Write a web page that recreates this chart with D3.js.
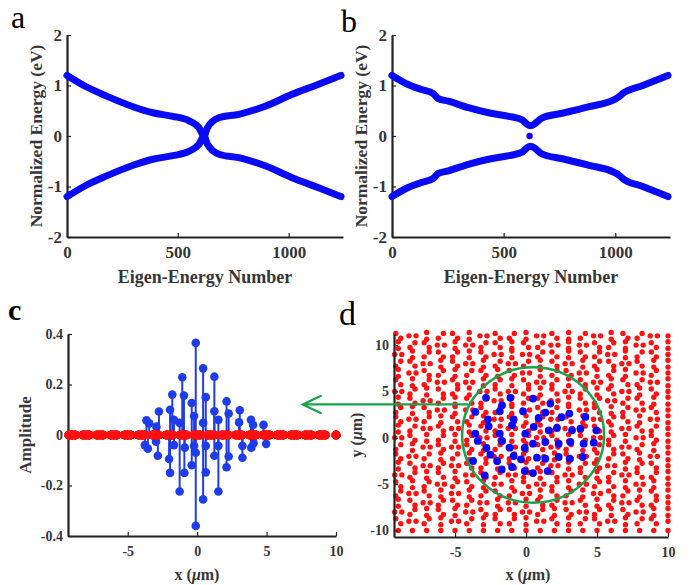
<!DOCTYPE html>
<html>
<head>
<meta charset="utf-8">
<script src="https://cdn.jsdelivr.net/npm/d3@7"></script>
<style>
  body { margin: 0; background: #fff; }
  svg text { font-family: "Liberation Serif", "Times New Roman", serif; }
</style>
</head>
<body>
<svg id="fig" width="699" height="585"></svg>
<script>
// ---- panel a: eigen-energies (upper and lower branch)
var nA = [0, 89, 179, 298, 387, 477, 551, 596, 618, 633, 685, 775, 894, 1013, 1132, 1236];
var upperA = [1.2, 0.97, 0.79, 0.58, 0.46, 0.39, 0.30, 0.16, 0.0, 0.16, 0.36, 0.43, 0.59, 0.82, 1.02, 1.2];
var lowerA = [-1.2, -0.97, -0.79, -0.58, -0.46, -0.39, -0.30, -0.16, 0.0, -0.16, -0.36, -0.43, -0.59, -0.82, -1.02, -1.2];

// ---- panel b
var nB = [0, 72, 132, 185, 207, 252, 342, 432, 523, 583, 616, 623, 673, 763, 883, 995, 1018, 1033, 1123, 1236];
var upperB = [1.2, 1.02, 0.92, 0.84, 0.74, 0.69, 0.56, 0.46, 0.39, 0.32, 0.21, 0.21, 0.36, 0.45, 0.58, 0.72, 0.78, 0.84, 1.0, 1.2];
var lowerB = [-1.2, -1.02, -0.92, -0.84, -0.74, -0.69, -0.56, -0.46, -0.39, -0.32, -0.21, -0.21, -0.36, -0.45, -0.58, -0.72, -0.78, -0.84, -1.0, -1.2];
var zeroModeB = [616, 0];

var energyTicks = [-2, -1, 0, 1, 2];
var numberTicks = [0, 500, 1000];

// ---- panel c: stem amplitudes of the zero mode
var stemX = [-3.45, -3.65, -3.77, -3.55, -2.75, -2.93, -2.96, -2.83,
  -1.79, -1.95, -1.67, -2.02, -1.95, -1.67, -1.07, -0.95, -1.26, -0.89, -0.92, -1.26,
  -0.10, -0.39, -0.22, -0.22, -0.10, -0.39, -0.10, 0.43, 0.62, 0.43, 0.62, 0.43, 0.62,
  1.24, 1.24, 1.53, 1.53, 1.24, 1.53, 2.12, 2.27, 2.27, 2.12,
  3.07, 3.02, 3.26, 3.26, 3.88, 4.03, 3.90, 4.07, 4.78, 4.97];
var stemAmp = [0.046, 0.058, -0.04, -0.054, 0.093, 0.033, -0.027, -0.082,
  0.16, 0.10, 0.06, -0.095, -0.15, -0.04, 0.229, 0.156, 0.048, -0.05, -0.15, -0.224,
  0.365, 0.127, 0.075, -0.043, -0.07, -0.12, -0.36, 0.264, 0.15, 0.048, -0.043, -0.255, -0.148,
  0.231, 0.094, 0.06, -0.043, -0.082, -0.224, 0.133, 0.085, -0.085, -0.128,
  0.098, 0.05, -0.043, -0.09, 0.06, 0.04, -0.05, -0.033, 0.04, -0.035];
var ampTicks = [-0.4, -0.2, 0, 0.2, 0.4];
var xTicks = [-5, 0, 5, 10];

// ---- panel d: lattice sites (dimer orientation per site: h v r f, o = single)
var siteX = [-9, -8, -7, -6, -5, -4, -3, -2, -1, 0, 1, 2, 3, 4, 5, 6, 7, 8, 9, 10];
var siteY = [11, 10, 9, 8, 7, 6, 5, 4, 3, 2, 1, 0, -1, -2, -3, -4, -5, -6, -7, -8, -9, -10];
var siteRows = [
  "fhvrfvhfrvhfvrhvfrho",
  "vrfhvhrfvfrhvhfrvhfv",
  "hvrfrvfhvhrfvfrhvrfo",
  "rfhvfhvrhrvfhvrfhfvv",
  "vhfrvrfvfhvrfhvrvhro",
  "fvrhfhvrvfhrvfhvfrhv",
  "hrvfrvhfhrvfhrvfhvfo",
  "vfhrvfrhvrfhvfrhrfvv",
  "rvfhvhfrvhfrvhfvrhfo",
  "fhrvfrvhfvrhfvhrfvhv",
  "vrhfhvfrhfvrhrfvhfro",
  "hfvrvrhfvrhfvfhrvhfv",
  "rvhfhfvrhvfhrvrfhrvo",
  "fhrvrvfhrfhvfhvrfvhv",
  "vfhrhfrvfvrhvrfhvrfo",
  "hrvfvhfrhrvfhfvrhfrv",
  "fvrhrfvhvfhrvhrfvhvo",
  "rhfvhvrfrhvfrvhfrvfv",
  "vfhrfrhvhvfrhfvrhfro",
  "hrvfvhfrfhrvfhrvfhvv",
  "fhrvhrvfrvhfvrfhvrfo",
  "oooooooooooooooooooo"
];
var blueX = [-2.82, -1.10, 0.49, -1.69, 1.71, -3.57, -1.85, -0.21, 1.36, 3.05,
  -2.68, -0.87, 0.89, 2.49, 4.18, -2.63, -0.99, 0.54, 1.60, 2.18, 3.24, 3.83, 4.95,
  -3.57, -1.85, -0.05, -3.40, -1.69, 0.49, 1.36, 2.30, 3.12, 4.06, 4.77,
  -2.79, -1.15, -0.09, -2.51, -0.87, -0.35, 0.77, 1.36, 2.30, 3.08, 3.99,
  -3.73, -2.04, -1.71, -0.99, -0.09, 0.49, 1.53, -2.91];
var blueY = [4.31, 4.31, 4.23, 3.51, 3.69, 2.79, 2.86, 2.86, 2.72, 2.61,
  2.0, 2.0, 2.14, 2.22, 2.25, 1.24, 1.35, 1.17, 0.81, 1.06, 0.81, 0.99, 0.81,
  0.45, 0.45, 0.45, -0.34, -0.34, -0.63, -0.45, -0.63, -0.45, -0.63, -0.52,
  -1.10, -1.06, -1.10, -1.82, -1.96, -2.32, -2.14, -2.25, -2.07, -2.25, -2.07,
  -2.50, -2.50, -3.41, -3.15, -3.59, -3.80, -3.59, -4.05];
var ring = { cx: 0.5, cy: 0.3, rx: 5.0, ry: 7.3 };
var yTicksD = [-10, -5, 0, 5, 10];

var BLUE = '#0a0af5', BLUE_C = '#1e3ce8', RED = '#ff1010', GREEN = '#17a24c';
var INK = '#222', TXT = '#363636';

var svg = d3.select('#fig');
var fmt = function(d) { return String(d); };

function drawAxes(g, x, y, xt, yt, fs, pad) {
  var bx = g.append('g')
    .attr('transform', 'translate(0,' + y.range()[0] + ')')
    .call(d3.axisBottom(x).tickValues(xt).tickFormat(fmt)
      .tickSize(-4).tickSizeOuter(0).tickPadding(pad));
  var by = g.append('g')
    .attr('transform', 'translate(' + x.range()[0] + ',0)')
    .call(d3.axisLeft(y).tickValues(yt).tickFormat(fmt)
      .tickSize(-4).tickSizeOuter(0).tickPadding(5));
  [bx, by].forEach(function(a) {
    a.select('.domain').attr('stroke', INK).attr('stroke-width', 2.2);
    a.selectAll('.tick line').attr('stroke', INK).attr('stroke-width', 1.2);
    a.selectAll('.tick text').attr('fill', TXT).attr('font-weight', 'bold')
      .attr('font-size', fs).style('font-family', '"Liberation Serif", serif');
  });
}

function label(txt, x, y, size, rot, opts) {
  opts = opts || {};
  var t = svg.append('text')
    .attr('transform', 'translate(' + x + ',' + y + ')' + (rot ? ' rotate(' + rot + ')' : ''))
    .attr('text-anchor', opts.anchor || 'middle')
    .attr('font-size', size)
    .attr('font-weight', opts.weight || 'bold')
    .attr('fill', opts.fill || TXT);
  if (opts.mu) {
    t.append('tspan').text(txt + ' (');
    t.append('tspan').attr('font-style', 'italic').text('\u03bc');
    t.append('tspan').text('m)');
  } else {
    t.text(txt);
  }
  return t;
}

// ---------------- panels a and b ----------------
function energyPanel(x0, x1, n, up, low, dot) {
  var x = d3.scaleLinear().domain([0, 1245]).range([x0, x1]);
  var y = d3.scaleLinear().domain([-2, 2]).range([237, 35]);
  var g = svg.append('g');
  drawAxes(g, x, y, numberTicks, energyTicks, 17, 9);
  var line = d3.line()
    .x(function(d) { return x(d[0]); })
    .y(function(d) { return y(d[1]); })
    .curve(d3.curveMonotoneX);
  [up, low].forEach(function(vals) {
    g.append('path')
      .datum(d3.zip(n, vals))
      .attr('d', line)
      .attr('fill', 'none')
      .attr('stroke', BLUE)
      .attr('stroke-width', 7)
      .attr('stroke-linecap', 'round')
      .attr('stroke-linejoin', 'round');
  });
  if (dot) {
    g.append('circle').attr('cx', x(dot[0])).attr('cy', y(dot[1]))
      .attr('r', 3.2).attr('fill', BLUE);
  }
  label('Eigen-Energy Number', (x0 + x1) / 2, 283, 18);
  label('Normalized Energy (eV)', x0 - 25, 136, 17.5, -90);
}
energyPanel(67, 343, nA, upperA, lowerA, null);
energyPanel(392, 670, nB, upperB, lowerB, zeroModeB);

// ---------------- panel d data (needed by c) ----------------
var dirs = { h: [1, 0], v: [0, 1], r: [0.71, 0.71], f: [0.71, -0.71] };
var redPts = [];
siteRows.forEach(function(row, i) {
  row.split('').forEach(function(ch, j) {
    var sx = siteX[j], sy = siteY[i];
    if (ch === 'o') { redPts.push([sx, sy]); return; }
    var d = dirs[ch];
    redPts.push([sx - 0.25 * d[0], sy - 0.37 * d[1]]);
    redPts.push([sx + 0.25 * d[0], sy + 0.37 * d[1]]);
  });
});

// ---------------- panel c ----------------
var xC = d3.scaleLinear().domain([-9.3, 10]).range([68, 336]);
var yC = d3.scaleLinear().domain([-0.4, 0.4]).range([536, 334]);
var gc = svg.append('g');
drawAxes(gc, xC, yC, xTicks, ampTicks, 14, 10);
var stems = d3.zip(stemX, stemAmp);
gc.selectAll('line.stem').data(stems).enter().append('line')
  .attr('class', 'stem')
  .attr('x1', function(d) { return xC(d[0]); })
  .attr('x2', function(d) { return xC(d[0]); })
  .attr('y1', yC(0))
  .attr('y2', function(d) { return yC(d[1]); })
  .attr('stroke', BLUE_C).attr('stroke-width', 2);
gc.selectAll('circle.head').data(stems).enter().append('circle')
  .attr('class', 'head')
  .attr('cx', function(d) { return xC(d[0]); })
  .attr('cy', function(d) { return yC(d[1]); })
  .attr('r', 4.3).attr('fill', BLUE_C);
gc.selectAll('circle.red').data(redPts).enter().append('circle')
  .attr('class', 'red')
  .attr('cx', function(d) { return xC(d[0]); })
  .attr('cy', yC(0))
  .attr('r', 4.3).attr('fill', RED);
label('Amplitude', 31, 435, 17, -90);
label('x', 197, 580, 16, 0, { mu: true });

// ---------------- panel d ----------------
var xD = d3.scaleLinear().domain([-9.3, 10]).range([394, 668]);
var yD = d3.scaleLinear().domain([-10.7, 11.2]).range([537, 334]);
var gd = svg.append('g');
gd.selectAll('circle.red').data(redPts).enter().append('circle')
  .attr('class', 'red')
  .attr('cx', function(d) { return xD(d[0]); })
  .attr('cy', function(d) { return yD(d[1]); })
  .attr('r', 2.7).attr('fill', RED);
gd.selectAll('circle.blue').data(d3.zip(blueX, blueY)).enter().append('circle')
  .attr('class', 'blue')
  .attr('cx', function(d) { return xD(d[0]); })
  .attr('cy', function(d) { return yD(d[1]); })
  .attr('r', 3.9).attr('fill', BLUE);
drawAxes(gd, xD, yD, xTicks, yTicksD, 14, 10);
gd.append('ellipse')
  .attr('cx', xD(ring.cx)).attr('cy', yD(ring.cy))
  .attr('rx', xD(ring.cx + ring.rx) - xD(ring.cx))
  .attr('ry', yD(ring.cy) - yD(ring.cy + ring.ry))
  .attr('fill', 'none').attr('stroke', GREEN).attr('stroke-width', 2.5);
label('y', 362, 435, 16, -90, { mu: true });
label('x', 528, 580, 16, 0, { mu: true });

// arrow from the ring to panel c
var ay = yD(3.6), ax0 = xD(ring.cx - ring.rx) + 6, ax1 = xC(7.6);
svg.append('path')
  .attr('d', 'M' + ax0 + ',' + ay + 'H' + ax1 + 'M' + (ax1 + 19) + ',' + (ay - 9) +
    'L' + ax1 + ',' + ay + 'L' + (ax1 + 19) + ',' + (ay + 9))
  .attr('fill', 'none').attr('stroke', GREEN).attr('stroke-width', 2.2);

// panel letters
label('a', 11, 28, 32, 0, { anchor: 'start', weight: 'normal', fill: '#000' });
label('b', 341, 32, 32, 0, { anchor: 'start', weight: 'normal', fill: '#000' });
label('c', 8, 320, 30, 0, { anchor: 'start', weight: 'bold', fill: '#000' });
label('d', 339, 325, 34, 0, { anchor: 'start', weight: 'normal', fill: '#000' });
</script>
</body>
</html>
